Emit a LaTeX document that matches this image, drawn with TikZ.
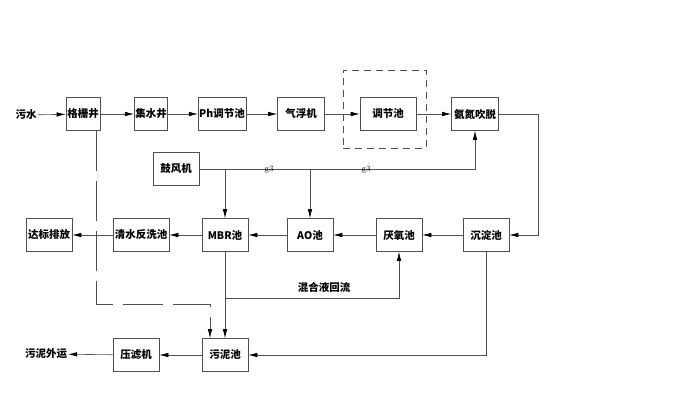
\documentclass[tikz,border=0pt]{standalone}
\usepackage{fontspec}
\newfontfamily\cjk{Noto Sans CJK SC}
\usetikzlibrary{arrows.meta}
\definecolor{linegray}{RGB}{80,80,80}
\begin{document}
\begin{tikzpicture}[x=1pt, y=-1pt,
    box/.style={draw=linegray, semithick, minimum height=33pt, inner sep=1pt, font=\cjk\bfseries\fontsize{10.5}{12}\selectfont},
    word/.style={inner sep=1pt, font=\cjk\bfseries\fontsize{10.5}{12}\selectfont},
    flow/.style={draw=linegray, semithick, -{Latex[length=9pt, width=4.5pt, black]}},
    gas/.style={inner sep=0pt, font=\fontsize{8.5}{10}\selectfont}]
  \useasboundingbox (0,0) rectangle (700,400);

  % top row
  \node[word] (wushui) at (26,115) {污水};
  \node[box, minimum width=34pt] (geshan) at (83,114) {格栅井};
  \node[box, minimum width=33pt] (jishui) at (151,114) {集水井};
  \node[box, minimum width=47pt] (ph) at (222,114) {Ph调节池};
  \node[box, minimum width=47pt] (qifu) at (301,114) {气浮机};
  \node[box, minimum width=56pt] (tiaojie) at (388,114) {调节池};
  \node[box, minimum width=47pt] (andan) at (475,114) {氨氮吹脱};
  \node[draw=linegray, semithick, dash pattern=on 7pt off 5pt, minimum width=83pt, minimum height=78pt] (kuang) at (384.5,109) {};

  \draw[flow] (wushui) -- (geshan);
  \draw[flow] (geshan) -- (jishui);
  \draw[flow] (jishui) -- (ph);
  \draw[flow] (ph) -- (qifu);
  \draw[flow] (qifu) -- (tiaojie);
  \draw[flow] (tiaojie) -- (andan);

  % air
  \node[box, minimum width=46pt] (gufeng) at (176,169) {鼓风机};
  \draw[flow] (gufeng) -| (andan);
  \node[gas] (g1) at (269,170) {g3};
  \node[gas] (g2) at (366,170) {g3};

  % bottom row
  \node[box, minimum width=46pt] (dabiao) at (49,235) {达标排放};
  \node[box, minimum width=56pt] (qingshui) at (141,235) {清水反洗池};
  \node[box, minimum width=46pt] (mbr) at (225,235) {MBR池};
  \node[box, minimum width=46pt] (ao) at (310,235) {AO池};
  \node[box, minimum width=46pt] (yanyang) at (399,235) {厌氧池};
  \node[box, minimum width=46pt] (chendian) at (486,235) {沉淀池};

  \draw[flow] (mbr |- gufeng) -- (mbr);
  \draw[flow] (ao |- gufeng) -- (ao);

  \coordinate (yougui) at (538,114);
  \draw[flow] (andan) -- (yougui) |- (chendian);
  \draw[flow] (chendian) -- (yanyang);
  \draw[flow] (yanyang) -- (ao);
  \draw[flow] (ao) -- (mbr);
  \draw[flow] (mbr) -- (qingshui);
  \draw[flow] (qingshui) -- (dabiao);

  % sludge
  \node[box, minimum width=46pt] (wuni) at (225,355) {污泥池};
  \node[box, minimum width=46pt] (yalv) at (136,355) {压滤机};
  \node[word] (waiyun) at (46,354) {污泥外运};

  \draw[flow] (mbr) -- (wuni);
  \draw[flow] (mbr |- 0,298) -| (yanyang);
  \node[word] (huiliu) at (324,287) {混合液回流};
  \draw[flow] (chendian) |- (wuni);
  \draw[flow] (wuni) -- (yalv);
  \draw[flow] (yalv) -- (waiyun);

  \draw[flow, dash pattern=on 40pt off 10pt] (geshan.south -| 96,0) |- (210,304) -- (wuni.north -| 210,0);
\end{tikzpicture}
\end{document}
